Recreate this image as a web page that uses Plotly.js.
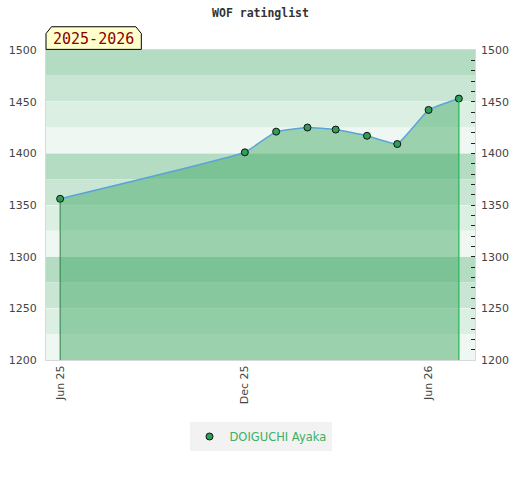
<!DOCTYPE html>
<html>
<head>
<meta charset="utf-8">
<script src="https://cdn.plot.ly/plotly-3.0.1.min.js"></script>
<style>html,body{margin:0;padding:0;background:#fff;}#chart{width:520px;height:480px;}</style>
</head>
<body>
<div id="chart"></div>
<script>
var chartTitle = "WOF ratinglist";
var seasonLabel = "2025-2026";
var playerName = "DOIGUCHI Ayaka";
var dates = ["2025-06-01","2025-12-01","2026-01-01","2026-02-01","2026-03-01","2026-04-01","2026-05-01","2026-06-01","2026-07-01"];
var ratings = [1356, 1401, 1421, 1425, 1423, 1417, 1409, 1442, 1453];
var yRange = [1200, 1500];
var xRange = ["2025-05-18", "2026-07-17"];
var bandColors = ["#b3dcc3", "#c9e6d4", "#dcefe3", "#eef7f1"];

var shapes = [];
var bandIndex = 0;
for (var bandTop = yRange[1]; bandTop > yRange[0]; bandTop -= 25) {
  shapes.push({type:"rect", layer:"below", xref:"paper", yref:"y", x0:0, x1:1, y0:bandTop-25, y1:bandTop,
    fillcolor: bandColors[bandIndex % 4], line:{width:0}});
  bandIndex++;
}
var n = ratings.length;
shapes.push({type:"line", xref:"x", yref:"y", x0:dates[0], x1:dates[0], y0:yRange[0], y1:ratings[0],
  line:{color:"#2f7f49", width:1}});
shapes.push({type:"line", xref:"x", yref:"y", x0:dates[n-1], x1:dates[n-1], y0:yRange[0], y1:ratings[n-1],
  line:{color:"#2db85c", width:1.3}});
shapes.push({type:"path", xref:"paper", yref:"paper", layer:"above",
  path:"M 0,1.002 L 0,1.053 L 0.0128,1.075 L 0.2094,1.075 L 0.2222,1.053 L 0.2222,1.002 Z",
  fillcolor:"#ffffcc", line:{color:"#000", width:1}});

var traces = [
  {x:dates, y:ratings, type:"scatter", mode:"lines+markers", fill:"tozeroy",
   fillcolor:"rgba(57,166,93,0.46)", line:{color:"#5ba4d9", width:1.5, shape:"spline", smoothing:0.3},
   marker:{color:"#2e9e58", size:7, line:{color:"#111", width:1}},
   showlegend:false, hoverinfo:"x+y"},
  {x:[null], y:[null], type:"scatter", mode:"markers", name:playerName,
   marker:{color:"#2e9e58", size:7, line:{color:"#111", width:1}}},
  {x:dates, y:ratings, type:"scatter", mode:"markers", yaxis:"y2", opacity:0,
   showlegend:false, hoverinfo:"skip", marker:{size:1}}
];

var tickFont = {family:"DejaVu Sans", size:11, color:"#444"};
var layout = {
  width:520, height:480,
  margin:{l:45.5, r:44.7, t:50, b:120},
  paper_bgcolor:"#fff", plot_bgcolor:"rgba(0,0,0,0)",
  title:{text:chartTitle, x:0.5, xref:"paper", xanchor:"center", y:0.972, yref:"container", yanchor:"middle",
    font:{family:"DejaVu Sans Mono", size:11.5, color:"#333", weight:"bold"}},
  xaxis:{type:"date", range:xRange, tick0:"2025-06-01", dtick:"M6", tickformat:"%b %y",
    tickangle:-90, tickfont:tickFont, showgrid:false, zeroline:false,
    showline:true, mirror:true, linecolor:"#d9d9d9", linewidth:1, ticks:"", fixedrange:true},
  yaxis:{range:yRange, dtick:50, tickfont:tickFont, showgrid:true, gridcolor:"rgba(255,255,255,0.35)",
    zeroline:false, showline:true, mirror:true, linecolor:"#d9d9d9", linewidth:1, ticks:"",
    ticklabelstandoff:6, fixedrange:true, layer:"above traces"},
  yaxis2:{range:yRange, dtick:50, overlaying:"y", side:"right", tickfont:tickFont, showgrid:false,
    zeroline:false, ticks:"inside", ticklen:4, tickcolor:"#222", tickwidth:1, ticklabelstandoff:5,
    minor:{dtick:10, ticks:"inside", ticklen:4, tickcolor:"#222", tickwidth:1, showgrid:false},
    showline:false, fixedrange:true},
  shapes:shapes,
  annotations:[{text:seasonLabel, xref:"paper", yref:"paper", x:0.1111, y:1.037, xanchor:"center", yanchor:"middle",
    showarrow:false, font:{family:"DejaVu Sans Mono", size:15, color:"#8b0000"}}],
  legend:{orientation:"h", x:0.5, xanchor:"center", y:-0.2, yanchor:"top", xref:"paper",
    bgcolor:"#f2f2f2", font:{family:"DejaVu Sans", size:11.5, color:"#3cb062"},
    tracegroupgap:0, borderwidth:0},
  showlegend:true
};
Plotly.newPlot("chart", traces, layout, {displayModeBar:false, staticPlot:true});
</script>
</body>
</html>
